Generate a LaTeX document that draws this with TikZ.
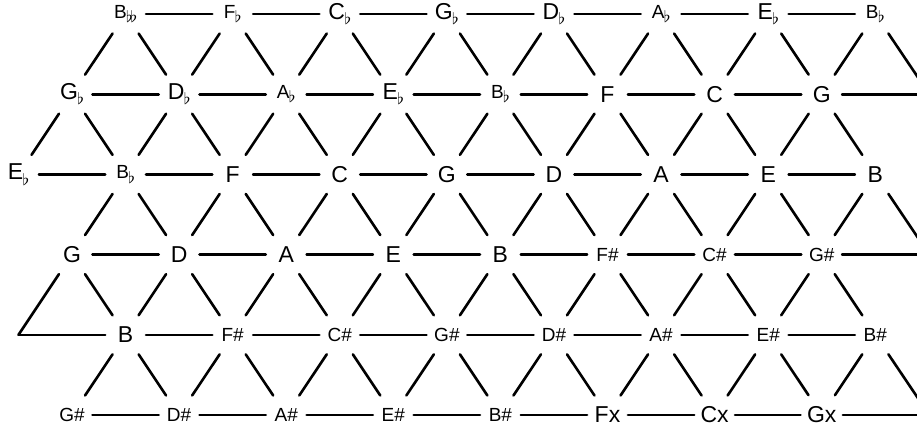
\documentclass[tikz,border=0pt]{standalone}
\usepackage{fontspec}
\setmainfont{Liberation Sans}
\usetikzlibrary{shapes.geometric}
\newcommand{\fl}{\kern-0.3pt\raisebox{-0.45ex}{\footnotesize$\flat$}}

\begin{document}
\begin{tikzpicture}[
    x=0.5pt, y=-0.5pt,
    note/.style={ellipse, inner sep=0pt, minimum width=20pt, minimum height=25pt, font=\fontsize{11.5}{13}\selectfont},
    small note/.style={note, font=\fontsize{9.5}{11}\selectfont},
    link/.style={line width=1.3pt, line cap=round}
]

\useasboundingbox (0,0) rectangle (917,434);
\clip (0,0) rectangle (917,434);

% rows of the lattice
\foreach \k/\s/\t in {1/small note/B\fl\kern-0.8pt\fl, 2/small note/F\fl, 3/note/C\fl, 4/note/G\fl, 5/note/D\fl, 6/small note/A\fl, 7/note/E\fl, 8/small note/B\fl}
  \node[\s] (r0-\k) at ({18.5+107.1*\k},14) {\t};
\foreach \k/\s/\t in {0/note/G\fl, 1/note/D\fl, 2/small note/A\fl, 3/note/E\fl, 4/small note/B\fl, 5/note/F, 6/note/C, 7/note/G}
  \node[\s] (r1-\k) at ({72+107.1*\k},94.2) {\t};
\foreach \k/\s/\t in {0/note/E\fl, 1/small note/B\fl, 2/note/F, 3/note/C, 4/note/G, 5/note/D, 6/note/A, 7/note/E, 8/note/B}
  \node[\s] (r2-\k) at ({18.5+107.1*\k},174.4) {\t};
\foreach \k/\s/\t in {0/note/G, 1/note/D, 2/note/A, 3/note/E, 4/note/B, 5/small note/F\#, 6/small note/C\#, 7/small note/G\#}
  \node[\s] (r3-\k) at ({72+107.1*\k},254.6) {\t};
\foreach \k/\s/\t in {1/note/B, 2/small note/F\#, 3/small note/C\#, 4/small note/G\#, 5/small note/D\#, 6/small note/A\#, 7/small note/E\#, 8/small note/B\#}
  \node[\s] (r4-\k) at ({18.5+107.1*\k},334.8) {\t};
\foreach \k/\s/\t in {0/small note/G\#, 1/small note/D\#, 2/small note/A\#, 3/small note/E\#, 4/small note/B\#, 5/note/Fx, 6/note/Cx, 7/note/Gx}
  \node[\s] (r5-\k) at ({72+107.1*\k},415) {\t};

% free ends
\coordinate (r4-0) at (18.5,334.8);
\coordinate (r1-8) at (929.3,94.2);
\coordinate (r3-8) at (929.3,254.6);
\coordinate (r5-8) at (929.3,415);

% horizontal lines
\foreach \r/\a in {0/1, 1/0, 2/0, 3/0, 4/0, 5/0}
  \foreach \k in {\a,...,7}{
    \pgfmathtruncatemacro{\kn}{\k+1}
    \draw[link] (r\r-\k) -- (r\r-\kn);
  }

% slanted lines
\foreach \r in {0,2,4}
  \foreach \k in {1,...,8}{
    \pgfmathtruncatemacro{\rn}{\r+1}
    \pgfmathtruncatemacro{\km}{\k-1}
    \draw[link] (r\r-\k) -- (r\rn-\km);
    \draw[link] (r\r-\k) -- (r\rn-\k);
  }
\foreach \r in {1,3}
  \foreach \k in {0,...,7}{
    \pgfmathtruncatemacro{\rn}{\r+1}
    \pgfmathtruncatemacro{\kn}{\k+1}
    \draw[link] (r\r-\k) -- (r\rn-\k);
    \draw[link] (r\r-\k) -- (r\rn-\kn);
  }

\end{tikzpicture}
\end{document}
